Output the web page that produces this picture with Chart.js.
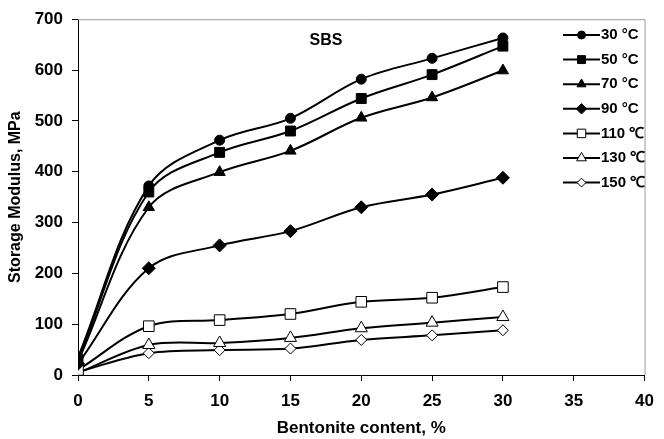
<!DOCTYPE html>
<html>
<head>
<meta charset="utf-8">
<script src="https://cdn.jsdelivr.net/npm/chart.js@4"></script>
<style>
  html, body { margin: 0; padding: 0; background: #fff; }
  #wrap { width: 664px; height: 439px; }
</style>
</head>
<body>
<div id="wrap"><canvas id="myChart" width="664" height="439"></canvas></div>
<script>
(() => {
  'use strict'

  // data
  const bentonite = [0, 5, 10, 15, 20, 25, 30];
  const t30 = [35, 372, 462, 505, 582, 623, 663];
  const t50 = [30, 360, 438, 480, 544, 591, 647];
  const t70 = [27, 330, 399, 441, 506, 546, 599];
  const t90 = [22, 210, 255, 283, 330, 355, 388];
  const t110 = [10, 96, 108, 120, 144, 152, 173];
  const t130 = [4, 59, 63, 73, 92, 103, 114];
  const t150 = [6, 43, 49, 52, 69, 78, 88];
  const seriesLabels = ['30 °C', '50 °C', '70 °C', '90 °C', '110 ℃', '130 ℃', '150 ℃'];

  const font = 'Liberation Sans, Arial, sans-serif';

  const pts = (ys) => bentonite.map((x, i) => ({ x: x, y: ys[i] }));

  const mk = (label, ys, style, radius, filled) => ({
    label: label,
    data: pts(ys),
    borderColor: '#000',
    borderWidth: 2,
    pointStyle: style,
    pointRadius: radius,
    pointHoverRadius: radius,
    pointBackgroundColor: filled ? '#000' : '#fff',
    pointBorderColor: '#000',
    pointBorderWidth: 1,
    tension: 0.35,
    fill: false
  });

  const datasets = [
    mk(seriesLabels[0], t30, 'circle', 5, true),
    mk(seriesLabels[1], t50, 'rect', 7, true),
    mk(seriesLabels[2], t70, 'triangle', 6.5, true),
    mk(seriesLabels[3], t90, 'rectRot', 6.5, true),
    mk(seriesLabels[4], t110, 'rect', 7.5, false),
    mk(seriesLabels[5], t130, 'triangle', 7, false),
    mk(seriesLabels[6], t150, 'rectRot', 5.5, false)
  ];

  // frame, title and legend inside the plot
  const extras = {
    id: 'extras',
    beforeDatasetsDraw(chart) {
      const a = chart.chartArea;
      const ctx = chart.ctx;
      ctx.save();
      ctx.strokeStyle = '#9a9a9a';
      ctx.lineWidth = 1;
      ctx.beginPath();
      ctx.moveTo(a.left, a.top + 0.5);
      ctx.lineTo(a.right + 0.5, a.top + 0.5);
      ctx.lineTo(a.right + 0.5, a.bottom);
      ctx.stroke();
      ctx.restore();
    },
    afterDraw(chart) {
      const ctx = chart.ctx;
      ctx.save();
      ctx.fillStyle = '#000';
      ctx.font = 'bold 16px ' + font;
      ctx.textAlign = 'center';
      ctx.textBaseline = 'middle';
      ctx.fillText('SBS', 326, 41);

      const x0 = 563, x1 = 600, startY = 35, step = 24.6;
      chart.data.datasets.forEach((ds, i) => {
        const y = startY + i * step;
        ctx.strokeStyle = '#000';
        ctx.lineWidth = 2;
        ctx.beginPath();
        ctx.moveTo(x0, y);
        ctx.lineTo(x1, y);
        ctx.stroke();
        ctx.fillStyle = ds.pointBackgroundColor;
        ctx.strokeStyle = '#000';
        ctx.lineWidth = 1;
        Chart.helpers.drawPoint(ctx, {
          pointStyle: ds.pointStyle,
          radius: ds.pointRadius * 0.8,
          borderWidth: 1
        }, (x0 + x1) / 2, y);
        ctx.fillStyle = '#000';
        ctx.font = 'bold 15px ' + font;
        ctx.textAlign = 'left';
        ctx.fillText(ds.label, x1 + 1, y);
      });
      ctx.restore();
    }
  };

  const ctx = document.getElementById('myChart');
  const myChart = new Chart(ctx, {
    type: 'line',
    data: { datasets: datasets },
    options: {
      responsive: false,
      animation: false,
      layout: { padding: { left: 2, right: 12, top: 18, bottom: 0 } },
      plugins: {
        legend: { display: false },
        tooltip: { enabled: false }
      },
      scales: {
        x: {
          type: 'linear',
          min: 0,
          max: 40,
          ticks: { stepSize: 5, color: '#000', padding: 10, font: { family: font, size: 17, weight: 'bold' } },
          grid: { drawOnChartArea: false, color: '#000', tickLength: 6 },
          border: { color: '#000', width: 1 },
          title: {
            display: true,
            text: 'Bentonite content, %',
            color: '#000',
            padding: { top: 4, bottom: 0 },
            font: { family: font, size: 17, weight: 'bold' }
          },
          afterFit(scale) { scale.height = 64; }
        },
        y: {
          min: 0,
          max: 700,
          ticks: { stepSize: 100, color: '#000', padding: 9, font: { family: font, size: 17, weight: 'bold' } },
          grid: { drawOnChartArea: false, color: '#000', tickLength: 6 },
          border: { color: '#000', width: 1 },
          title: {
            display: true,
            text: 'Storage Modulus, MPa',
            color: '#000',
            padding: { top: 4, bottom: 0 },
            font: { family: font, size: 16, weight: 'bold' }
          },
          afterFit(scale) { scale.width = 76; }
        }
      }
    },
    plugins: [extras]
  });
})()
</script>
</body>
</html>
